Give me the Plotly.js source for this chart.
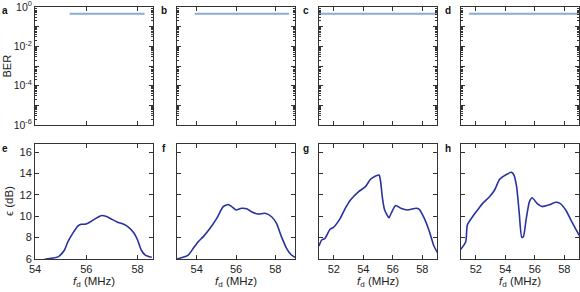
<!DOCTYPE html>
<html><head><meta charset="utf-8">
<script src="https://cdn.plot.ly/plotly-3.0.1.min.js"></script>
<style>html,body{margin:0;padding:0;background:#fff}#c{width:580px;height:292px}</style>
</head><body><div id="c"></div>
<script>
// BER panels (a-d): flat lines
const berA_x = [55.35, 58.27], berA_y = [0.46, 0.46];
const berB_x = [53.9, 58.7],   berB_y = [0.46, 0.46];
const berC_x = [51.0, 59.0],   berC_y = [0.46, 0.46];
const berD_x = [51.55, 59.0],  berD_y = [0.46, 0.46];

// epsilon panels (e-h)
const epsE_x = [54.2,54.45,54.9,55.15,55.28,55.47,55.67,55.8,55.99,56.18,56.37,56.57,56.76,56.95,57.2,57.46,57.65,57.85,58.0,58.14,58.3,58.55];
const epsE_y = [5.85,6.0,6.2,6.84,7.6,8.4,9.08,9.24,9.27,9.5,9.8,10.05,10.0,9.77,9.46,9.24,8.96,8.46,7.78,6.84,6.37,6.16];

const epsF_x = [53.0,53.57,53.83,54.08,54.34,54.68,55.02,55.35,55.6,55.78,56.0,56.28,56.54,56.79,57.13,57.47,57.81,58.06,58.31,58.57,58.82,59.0];
const epsF_y = [6.0,6.37,7.0,7.62,8.09,8.87,9.8,10.9,11.1,10.9,10.58,10.74,10.7,10.42,10.2,10.27,9.95,9.33,8.09,7.0,6.37,6.16];

const epsG_x = [51.0,51.18,51.41,51.75,51.98,52.44,52.78,53.12,53.69,54.15,54.49,54.84,55.07,55.18,55.29,55.45,55.75,55.9,56.2,56.55,57.0,57.58,57.8,58.14,58.49,58.79,59.06];
const epsG_y = [7.21,7.78,7.93,8.78,8.96,9.8,10.74,11.5,12.3,12.76,13.45,13.76,13.85,13.22,11.82,10.58,9.86,10.3,11.0,10.74,10.58,10.74,10.65,9.8,8.55,7.21,6.53];

const epsH_x = [50.95,51.32,51.43,51.78,52.12,52.47,52.93,53.28,53.62,54.08,54.43,54.59,54.77,54.95,55.12,55.23,55.41,55.64,55.83,56.15,56.5,56.95,57.41,57.71,58.1,58.45,58.79,59.09];
const epsH_y = [6.84,7.62,9.18,9.95,10.58,11.2,11.82,12.45,13.45,13.9,14.1,13.85,12.76,10.27,8.03,8.09,9.64,11.36,11.73,11.2,10.9,11.05,11.3,11.2,10.58,9.64,8.78,8.03];

const xRanges = [[54, 58.6], [53, 59], [51, 59], [51, 59]];
const xTicks = [[54, 56, 58], [54, 56, 58], [52, 54, 56, 58], [52, 54, 56, 58]];
const berTickVals = [1e-6, 1e-5, 1e-4, 1e-3, 1e-2, 1e-1, 1];
const berTickText = ['10<sup>-6</sup>', '', '10<sup>-4</sup>', '', '10<sup>-2</sup>', '', '10<sup>0</sup>'];
const epsTicks = [6, 8, 10, 12, 14, 16];
const epsRange = [6, 16.75];
const panelLetters = ['a', 'b', 'c', 'd', 'e', 'f', 'g', 'h'];

const minorVals = [];
for (let k = -6; k < 0; k++) for (let m = 2; m <= 9; m++) minorVals.push(m * Math.pow(10, k));

const W = 580, H = 292;
const colL = [35, 177, 319, 461], colW = 118;
const topRow = [7, 125], botRow = [144, 259];
const px = v => v / W, py = v => 1 - v / H;

const berX = [berA_x, berB_x, berC_x, berD_x], berY = [berA_y, berB_y, berC_y, berD_y];
const epsX = [epsE_x, epsF_x, epsG_x, epsH_x], epsY = [epsE_y, epsF_y, epsG_y, epsH_y];

const fam = 'Liberation Sans, Arial, sans-serif';
const font = {family: fam, size: 11, color: '#222'};
const topFont = {family: fam, size: 10.5, color: '#222'};
const traces = [];
const layout = {
  width: W, height: H, margin: {l: 0, r: 0, t: 0, b: 0},
  paper_bgcolor: '#fff', plot_bgcolor: '#fff', showlegend: false, font: font,
  annotations: []
};
const axBase = {showline: true, linecolor: '#333', linewidth: 1, mirror: 'allticks', ticks: 'inside',
  ticklen: 4, tickcolor: '#333', showgrid: false, zeroline: false, fixedrange: true, tickfont: font,
  ticklabeloverflow: 'allow'};

for (let c = 0; c < 4; c++) {
  const iT = c + 1, iB = c + 5;
  const xd = [px(colL[c]), px(colL[c] + colW)];
  traces.push({x: berX[c], y: berY[c], type: 'scatter', mode: 'lines', xaxis: 'x' + iT, yaxis: 'y' + iT,
    line: {color: 'rgb(140,170,215)', width: 2}, hoverinfo: 'skip'});
  traces.push({x: epsX[c], y: epsY[c], type: 'scatter', mode: 'lines', xaxis: 'x' + iB, yaxis: 'y' + iB,
    line: {color: 'rgb(40,50,160)', width: 1.6, shape: 'spline', smoothing: 0.6}, hoverinfo: 'skip'});
  const kT = iT === 1 ? '' : iT, kB = iB;
  layout['xaxis' + kT] = Object.assign({}, axBase, {domain: xd, range: xRanges[c], tickvals: xTicks[c], showticklabels: false, anchor: 'y' + kT});
  layout['yaxis' + kT] = Object.assign({}, axBase, {domain: [py(topRow[1]), py(topRow[0])], type: 'log', range: [-6, 0],
    tickvals: berTickVals, ticktext: berTickText, showticklabels: c === 0, anchor: 'x' + kT, tickfont: topFont,
    minor: {tickvals: minorVals, ticks: 'inside', ticklen: 2, tickcolor: '#333'}});
  layout['xaxis' + kB] = Object.assign({}, axBase, {domain: xd, range: xRanges[c], tickvals: xTicks[c], anchor: 'y' + kB});
  layout['yaxis' + kB] = Object.assign({}, axBase, {domain: [py(botRow[1]), py(botRow[0])], range: epsRange,
    tickvals: epsTicks, showticklabels: c === 0, anchor: 'x' + kB});
  layout.annotations.push({xref: 'paper', yref: 'paper', x: px(colL[c] + colW / 2), y: py(282), xanchor: 'center', yanchor: 'middle',
    text: '<i>f</i><sub>d</sub> (MHz)', showarrow: false, font: {family: fam, size: 11.5, color: '#222'}});
  const lx = c === 0 ? 5 : colL[c] - 13;
  layout.annotations.push({xref: 'paper', yref: 'paper', x: px(lx), y: py(10), xanchor: 'center', yanchor: 'middle',
    text: '<b>' + panelLetters[c] + '</b>', showarrow: false, font: {family: fam, size: 10, color: '#111'}});
  layout.annotations.push({xref: 'paper', yref: 'paper', x: px(lx), y: py(148), xanchor: 'center', yanchor: 'middle',
    text: '<b>' + panelLetters[c + 4] + '</b>', showarrow: false, font: {family: fam, size: 10, color: '#111'}});
}
layout.annotations.push({xref: 'paper', yref: 'paper', x: px(6.5), y: py(66), xanchor: 'center', yanchor: 'middle',
  textangle: -90, text: 'BER', showarrow: false, font: {family: fam, size: 11, color: '#222'}});
layout.annotations.push({xref: 'paper', yref: 'paper', x: px(9), y: py(201), xanchor: 'center', yanchor: 'middle',
  textangle: -90, text: 'ϵ (dB)', showarrow: false, font: {family: fam, size: 11.5, color: '#222'}});

Plotly.newPlot('c', traces, layout, {staticPlot: true});
</script></body></html>
